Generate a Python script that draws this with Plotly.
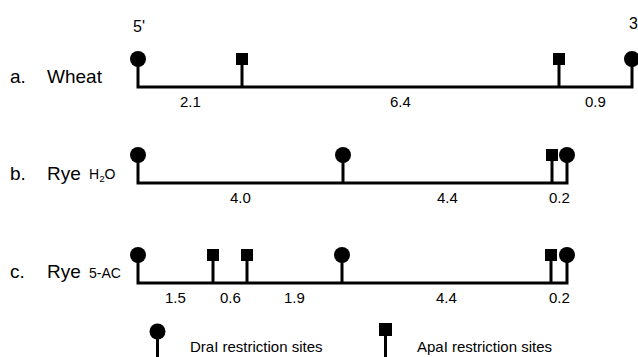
import plotly.graph_objects as go

# ---- data (schematic restriction maps, positions measured from the 5' end) ----
row_letters = ["a.", "b.", "c."]
row_names = ["Wheat", "Rye", "Rye"]
row_suffix = ["", "H<sub>2</sub>O", "5-AC"]

sites_a = [0, 104, 421, 494]
types_a = ["DraI", "ApaI", "ApaI", "DraI"]
seg_a = ["2.1", "6.4", "0.9"]

sites_b = [0, 205, 414, 429]
types_b = ["DraI", "DraI", "ApaI", "DraI"]
seg_b = ["4.0", "4.4", "0.2"]

sites_c = [0, 75, 109, 204, 413, 429]
types_c = ["DraI", "ApaI", "ApaI", "DraI", "ApaI", "DraI"]
seg_c = ["1.5", "0.6", "1.9", "4.4", "0.2"]

legend_labels = ["DraI restriction sites", "ApaI restriction sites"]

# ---- layout constants ----
W, H = 638, 357
X0 = 138                      # pixel of the 5' end
def px(p):
    return p - X0
baselines = [87, 183, 283]
stem_h = 28
lw = 3
FONT = "Liberation Sans, Arial, Helvetica, sans-serif"
BLACK = "#000000"

fig = go.Figure()
annotations = []

rows = [(sites_a, types_a, seg_a), (sites_b, types_b, seg_b), (sites_c, types_c, seg_c)]
for i, (sites, types, segs) in enumerate(rows):
    yb = baselines[i]
    top = yb - stem_h
    fig.add_trace(go.Scatter(
        x=[sites[0], sites[0], sites[-1], sites[-1]],
        y=[top, yb, yb, top],
        mode="lines", line=dict(color=BLACK, width=lw),
        hoverinfo="skip", showlegend=False))
    sx, sy = [], []
    for s in sites[1:-1]:
        sx += [s, s, None]
        sy += [yb, top, None]
    if sx:
        fig.add_trace(go.Scatter(x=sx, y=sy, mode="lines",
                                 line=dict(color=BLACK, width=lw),
                                 hoverinfo="skip", showlegend=False))
    for kind, sym, size in [("DraI", "circle", 16), ("ApaI", "square", 12)]:
        xs = [s for s, t in zip(sites, types) if t == kind]
        if xs:
            fig.add_trace(go.Scatter(
                x=xs, y=[top] * len(xs), mode="markers",
                marker=dict(symbol=sym, size=size, color=BLACK,
                            line=dict(width=0)),
                hoverinfo="skip", showlegend=False))
    for j, lab in enumerate(segs):
        annotations.append(dict(
            x=(sites[j] + sites[j + 1]) / 2, y=yb + 14, text=lab,
            xref="x", yref="y", showarrow=False,
            xanchor="center", yanchor="middle",
            font=dict(family=FONT, size=15, color=BLACK)))

# row labels
row_label_y = [76, 173, 271]
for i in range(3):
    annotations.append(dict(x=px(8), y=row_label_y[i], text=row_letters[i],
                            xref="x", yref="y", showarrow=False,
                            xanchor="left", yanchor="middle",
                            font=dict(family=FONT, size=19, color=BLACK)))
    annotations.append(dict(x=px(45), y=row_label_y[i], text=row_names[i],
                            xref="x", yref="y", showarrow=False,
                            xanchor="left", yanchor="middle",
                            font=dict(family=FONT, size=19, color=BLACK)))
    if row_suffix[i]:
        annotations.append(dict(x=px(87), y=row_label_y[i] + 2, text=row_suffix[i],
                                xref="x", yref="y", showarrow=False,
                                xanchor="left", yanchor="middle",
                                font=dict(family=FONT, size=14, color=BLACK)))

annotations.append(dict(x=px(138.5), y=26, text="5'", xref="x", yref="y",
                        showarrow=False, xanchor="center", yanchor="middle",
                        font=dict(family=FONT, size=16, color=BLACK)))
annotations.append(dict(x=px(627), y=23, text="3'", xref="x", yref="y",
                        showarrow=False, xanchor="left", yanchor="middle",
                        font=dict(family=FONT, size=16, color=BLACK)))

# legend (drawn as marks)
leg_x = [px(157.5), px(385.5)]
leg_sym = ["circle", "square"]
leg_size = [16, 13]
leg_y = [331.5, 329.5]
for k in range(2):
    fig.add_trace(go.Scatter(x=[leg_x[k], leg_x[k]], y=[leg_y[k], H + 5],
                             mode="lines", line=dict(color=BLACK, width=lw),
                             hoverinfo="skip", showlegend=False))
    fig.add_trace(go.Scatter(x=[leg_x[k]], y=[leg_y[k]], mode="markers",
                             marker=dict(symbol=leg_sym[k], size=leg_size[k],
                                         color=BLACK, line=dict(width=0)),
                             hoverinfo="skip", showlegend=False))
leg_text_x = [px(188), px(415)]
for k in range(2):
    annotations.append(dict(x=leg_text_x[k], y=346, text=legend_labels[k],
                            xref="x", yref="y", showarrow=False,
                            xanchor="left", yanchor="middle",
                            font=dict(family=FONT, size=15, color=BLACK)))

fig.update_layout(
    width=W, height=H,
    margin=dict(l=0, r=0, t=0, b=0),
    paper_bgcolor="white", plot_bgcolor="white",
    xaxis=dict(range=[px(0), px(W)], visible=False, fixedrange=True),
    yaxis=dict(range=[H, 0], visible=False, fixedrange=True),
    annotations=annotations,
    showlegend=False,
)

fig.write_html("out.html", config={"displayModeBar": False},
               post_script="document.body.style.margin='0';document.body.style.overflow='hidden';")
